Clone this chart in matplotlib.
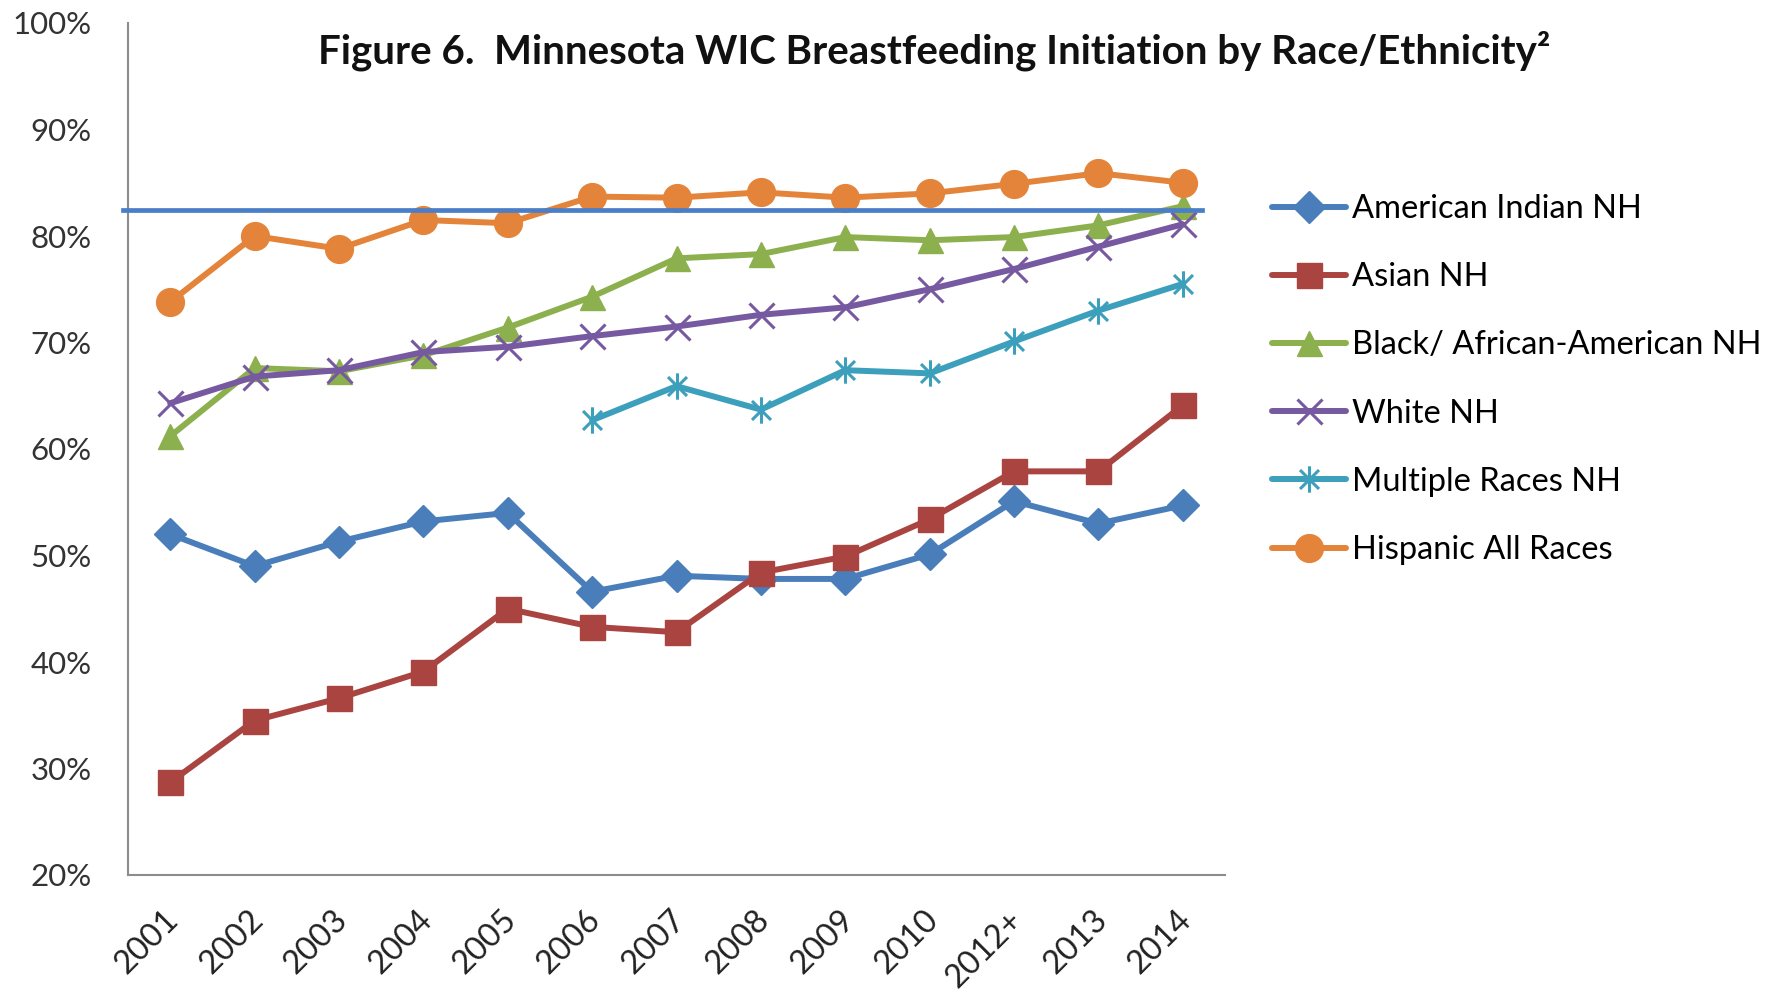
import matplotlib
matplotlib.use("Agg")
import matplotlib.pyplot as plt
import matplotlib.transforms as mtransforms
from matplotlib.path import Path
import numpy as np

plt.rcParams['font.family'] = ['Lato', 'DejaVu Sans']

categories = ["2001", "2002", "2003", "2004", "2005", "2006", "2007",
              "2008", "2009", "2010", "2012+", "2013", "2014"]

american_indian = [52.0, 49.0, 51.3, 53.2, 54.0, 46.6, 48.1, 47.8, 47.8, 50.1, 55.1, 53.0, 54.7]
asian = [28.7, 34.5, 36.6, 39.1, 45.0, 43.3, 42.8, 48.4, 49.9, 53.4, 57.9, 57.9, 64.1]
black = [61.2, 67.6, 67.3, 68.8, 71.4, 74.3, 77.9, 78.3, 79.9, 79.6, 79.9, 81.0, 82.8]
white = [64.3, 66.8, 67.4, 69.1, 69.6, 70.6, 71.5, 72.6, 73.3, 75.0, 76.9, 79.0, 81.1]
multiple = [None, None, None, None, None, 62.7, 65.9, 63.7, 67.4, 67.1, 70.1, 73.0, 75.5]
hispanic = [73.8, 80.0, 78.8, 81.5, 81.2, 83.7, 83.6, 84.1, 83.6, 84.0, 84.9, 85.9, 85.0]

target_line = 82.4

series_names = ["American Indian NH", "Asian NH", "Black/ African-American NH",
                "White NH", "Multiple Races NH", "Hispanic All Races"]

yticks = [20, 30, 40, 50, 60, 70, 80, 90, 100]
ytick_labels = ["20%", "30%", "40%", "50%", "60%", "70%", "80%", "90%", "100%"]

W, H = 1781, 990
fig = plt.figure(figsize=(W / 100, H / 100), dpi=100)
ax = fig.add_axes([128 / W, 1 - 875 / H, (1225 - 128) / W, (875 - 23) / H])

x = np.arange(len(categories))

asterisk = Path([(0, -1), (0, 1), (-0.72, -0.72), (0.72, 0.72), (-0.72, 0.72), (0.72, -0.72)],
                [Path.MOVETO, Path.LINETO, Path.MOVETO, Path.LINETO, Path.MOVETO, Path.LINETO])

def to_arr(v):
    return np.array([np.nan if a is None else a for a in v], dtype=float)

styles = [
    dict(data=american_indian, color="#4A7EBB", marker="D", ms=16, mew=1),
    dict(data=asian, color="#AA4441", marker="s", ms=18, mew=1),
    dict(data=black, color="#8DB04E", marker="^", ms=18, mew=1),
    dict(data=white, color="#7659A0", marker="x", ms=18, mew=2.2),
    dict(data=multiple, color="#3C9FBB", marker=asterisk, ms=19, mew=2.2),
    dict(data=hispanic, color="#E4843A", marker="o", ms=20, mew=1),
]

for name, st in zip(series_names, styles):
    ax.plot(x, to_arr(st["data"]), color=st["color"], lw=4.3, marker=st["marker"],
            ms=st["ms"], mfc=st["color"], mec=st["color"], mew=st["mew"], label=name,
            solid_joinstyle="round", solid_capstyle="round", zorder=3)

ax.plot([-0.56, 12.23], [target_line, target_line], color="#4A7EC7", lw=3.4,
        clip_on=False, zorder=4)

ax.set_xlim(-0.5, len(categories) - 0.5)
ax.set_ylim(20, 100)
ax.set_yticks(yticks)
ax.set_yticklabels(ytick_labels, fontsize=22.5, color="#333333")
ax.set_xticks(x)
ax.set_xticklabels(categories, fontsize=23.5, color="#222222", rotation=45,
                   ha="right", va="center", rotation_mode="anchor")
ax.tick_params(axis="y", length=0, pad=26)
ax.tick_params(axis="x", length=0, pad=29)
offset = mtransforms.ScaledTranslation(4 / 100, 0, fig.dpi_scale_trans)
for lab in ax.get_xticklabels():
    lab.set_transform(lab.get_transform() + offset)

for s in ["top", "right"]:
    ax.spines[s].set_visible(False)
for s in ["left", "bottom"]:
    ax.spines[s].set_color("#8C8C8C")
    ax.spines[s].set_linewidth(1.5)

fig.text(934 / W, 1 - 51 / H,
         "Figure 6.  Minnesota WIC Breastfeeding Initiation by Race/Ethnicity\u00b2",
         ha="center", va="center", fontsize=29, fontweight="bold", color="#111111")

leg = fig.legend(loc="upper left", bbox_to_anchor=(1272 / W, 1 - 194 / H),
                 frameon=False, fontsize=23.5, handlelength=2.27, handletextpad=0.18,
                 labelspacing=1.17, borderpad=0, borderaxespad=0)

fig.savefig("out.png", dpi=100)
